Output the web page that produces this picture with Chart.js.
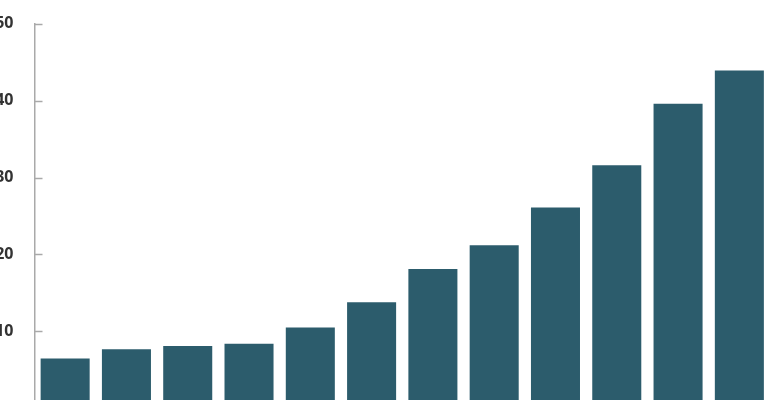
<!DOCTYPE html>
<html>
<head>
<meta charset="utf-8">
<script src="https://cdn.jsdelivr.net/npm/chart.js@4/dist/chart.umd.min.js"></script>
<style>
  html, body { margin: 0; padding: 0; background: #fff; overflow: hidden; }
  #wrap { position: absolute; left: -30px; top: -7px; width: 800px; height: 446px; }
</style>
</head>
<body>
<div id="wrap"><canvas id="c"></canvas></div>
<script>
// category labels are below the visible crop; years assumed
const categories = ["2011", "2012", "2013", "2014", "2015", "2016", "2017", "2018", "2019", "2020", "2021", "2022"];
const values = [6.5, 7.7, 8.1, 8.4, 10.5, 13.8, 18.1, 21.2, 26.1, 31.6, 39.6, 43.9];
const yTicks = [10, 20, 30, 40, 50];

const BAR = "#2c5c6c";
const AXIS = "#a9a9a9";

// short tick marks drawn inward (to the right of the axis line)
const innerTicks = {
  id: "innerTicks",
  afterDraw(chart) {
    const y = chart.scales.y, ctx = chart.ctx;
    ctx.save();
    ctx.strokeStyle = AXIS;
    ctx.lineWidth = 1.5;
    yTicks.forEach(v => {
      const py = Math.round(y.getPixelForValue(v)) + 0.5;
      ctx.beginPath();
      ctx.moveTo(y.right, py);
      ctx.lineTo(y.right + 8, py);
      ctx.stroke();
    });
    ctx.restore();
  }
};

new Chart(document.getElementById("c"), {
  type: "bar",
  data: {
    labels: categories,
    datasets: [{ data: values, backgroundColor: BAR, borderWidth: 0, barPercentage: 0.8, categoryPercentage: 1 }]
  },
  options: {
    responsive: true, maintainAspectRatio: false, animation: false,
    layout: { padding: { top: 16, bottom: 2, left: 0, right: 0 } },
    plugins: { legend: { display: false }, tooltip: { enabled: false } },
    scales: {
      x: { display: false },
      y: {
        min: 0, max: 50,
        afterFit: s => { s.width = 64.5; },
        afterBuildTicks: s => { s.ticks = yTicks.map(v => ({ value: v })); },
        grid: { display: false, drawTicks: false },
        border: { display: true, color: AXIS, width: 1.5 },
        ticks: { padding: 21, color: "#333", font: { family: "Open Sans", weight: "bold", size: 16 } }
      }
    }
  },
  plugins: [innerTicks]
});
</script>
</body>
</html>
